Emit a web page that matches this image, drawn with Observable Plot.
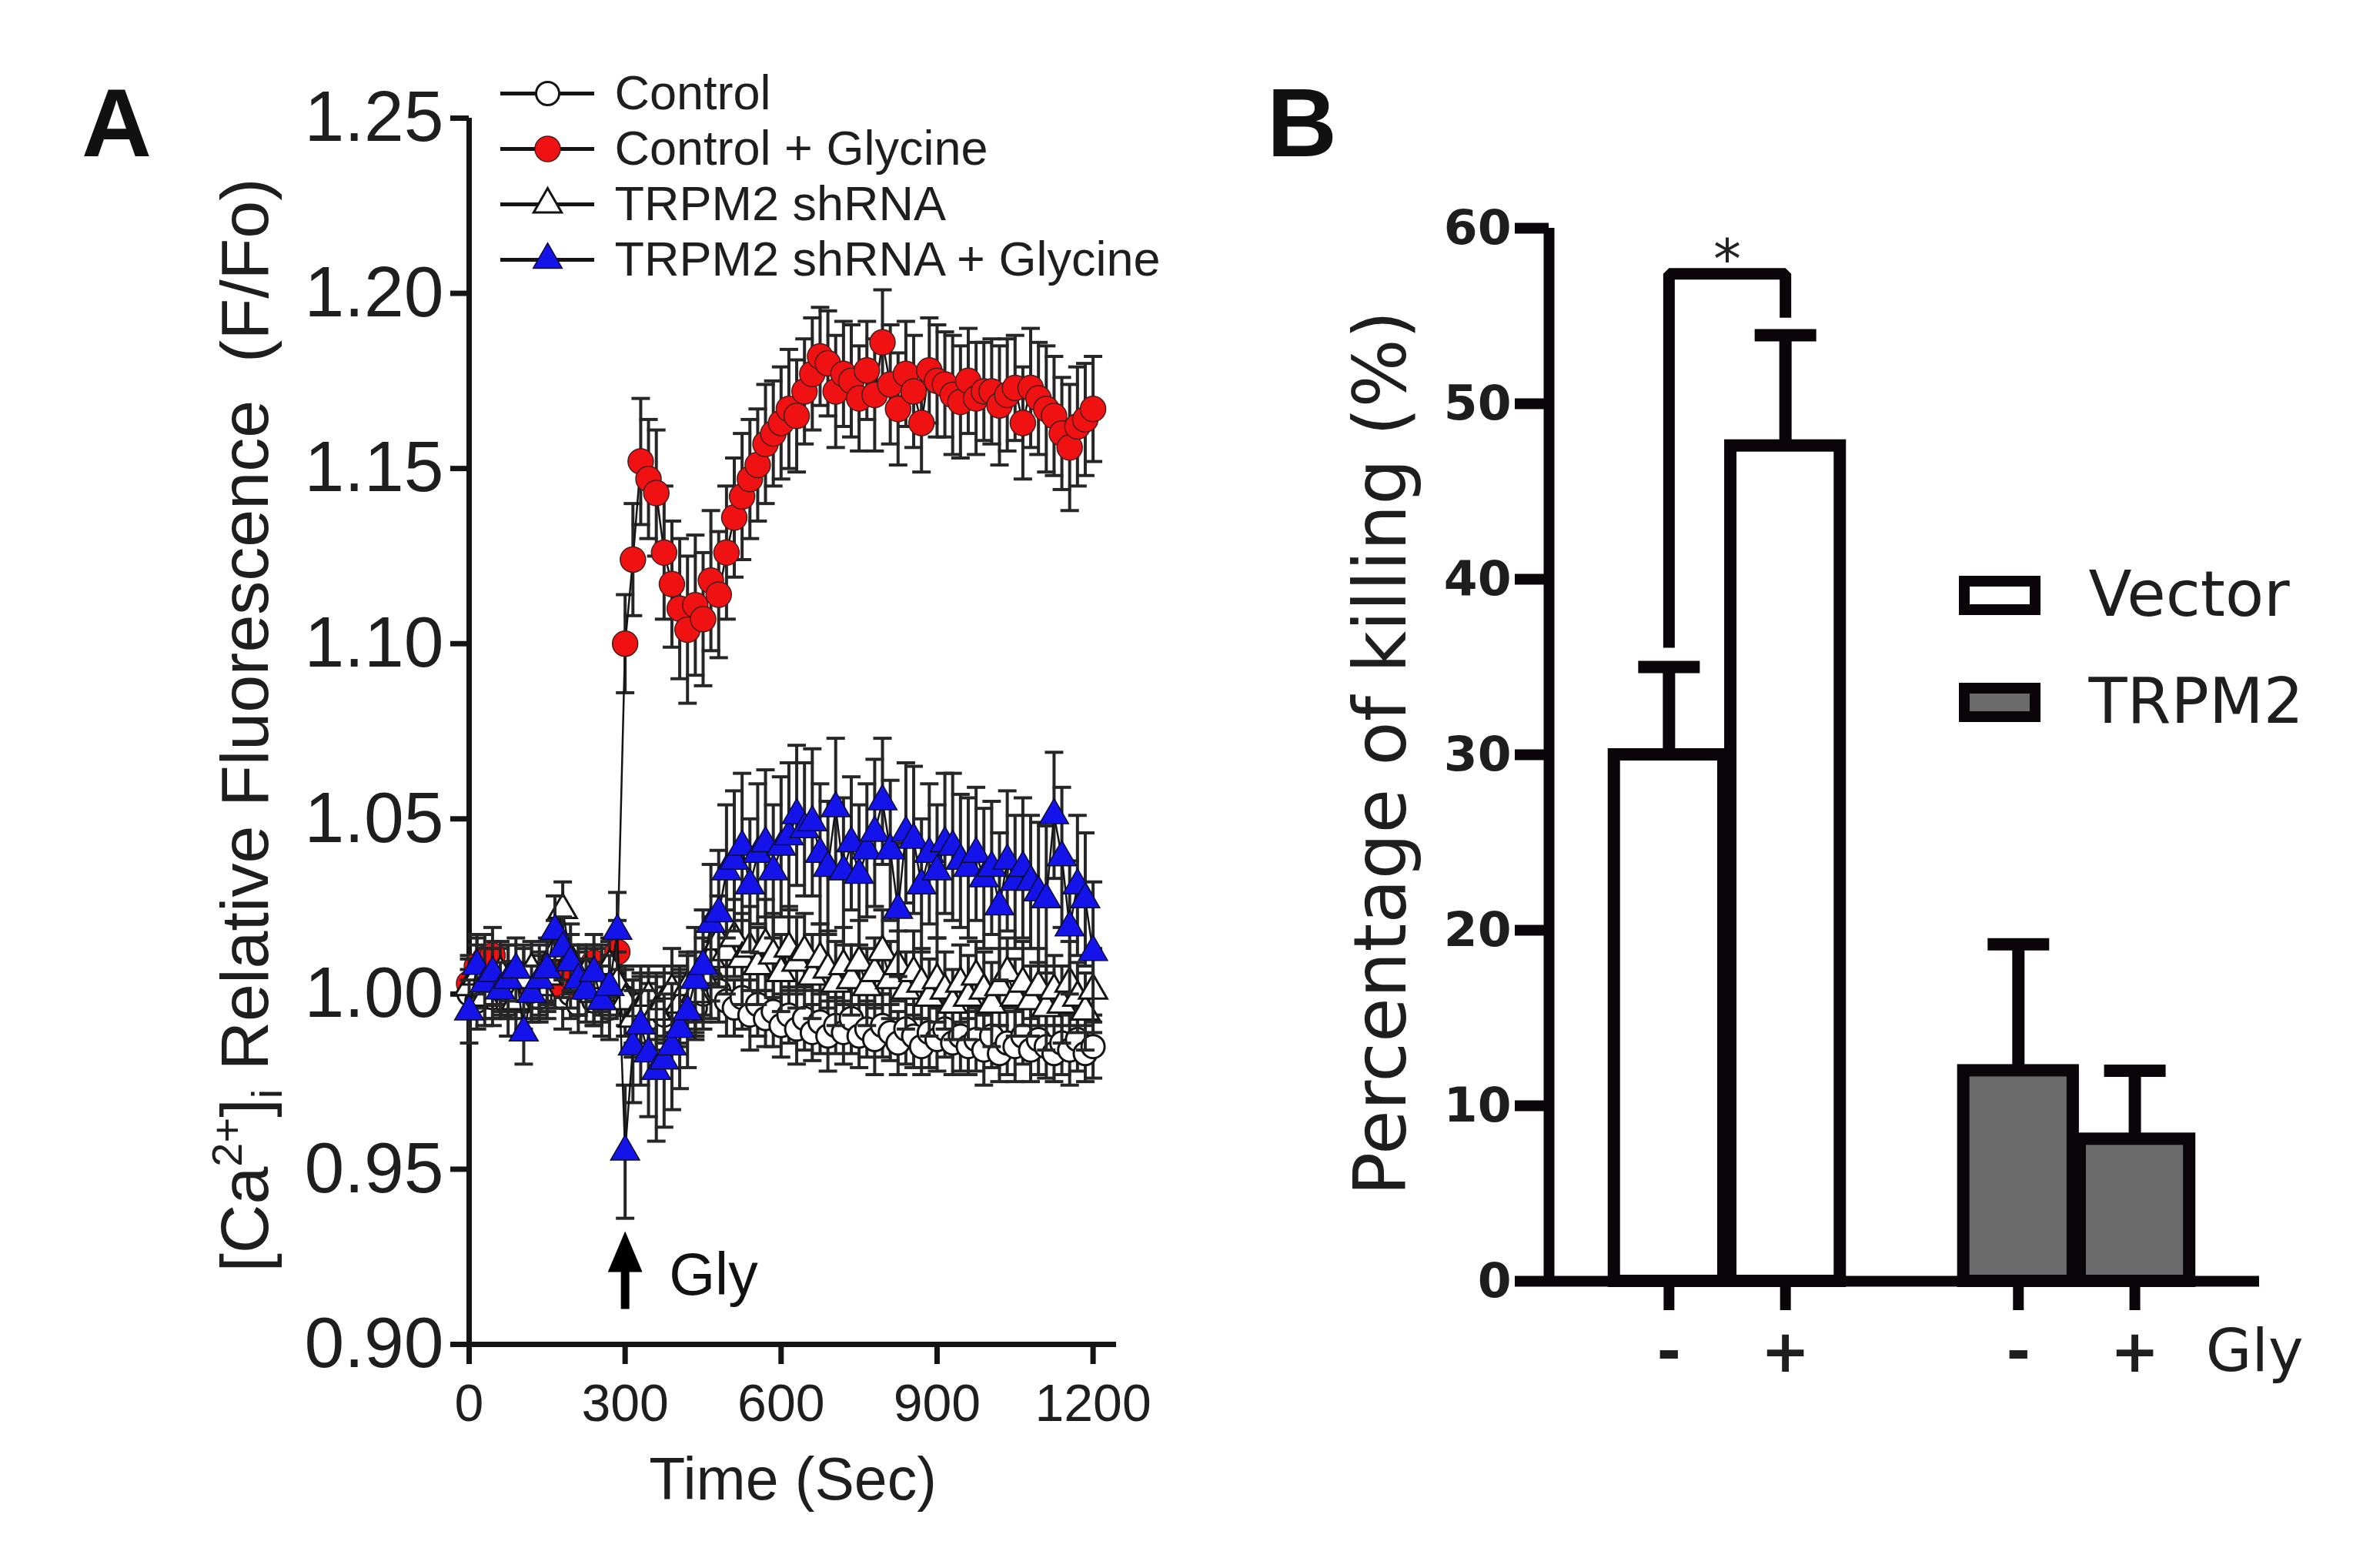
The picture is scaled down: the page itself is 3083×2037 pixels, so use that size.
<!DOCTYPE html>
<html><head><meta charset="utf-8">
<script src="https://cdn.jsdelivr.net/npm/d3@7"></script>
<script src="https://cdn.jsdelivr.net/npm/@observablehq/plot@0.6"></script>
<style>
html,body{margin:0;padding:0;background:#fff;}
#root{position:relative;width:3083px;height:2037px;overflow:hidden;background:#fff;}
.panel-letter{position:absolute;font-family:"Liberation Sans Narrow","Arial Narrow","Liberation Sans",Arial,sans-serif;font-weight:bold;font-size:126px;line-height:1;color:#111;}
</style></head>
<body><div id="root"></div>
<script>
// ---------------- Panel A data ----------------
const time = [
0,15,30,45,60,75,90,105,120,135,
150,165,180,195,210,225,240,255,270,285,
300,315,330,345,360,375,390,405,420,435,
450,465,480,495,510,525,540,555,570,585,
600,615,630,645,660,675,690,705,720,735,
750,765,780,795,810,825,840,855,870,885,
900,915,930,945,960,975,990,1005,1020,1035,
1050,1065,1080,1095,1110,1125,1140,1155,1170,1185,
1200];
const control = [
1.000,0.998,1.002,0.999,1.001,0.997,1.000,0.998,1.002,0.999,
1.001,1.003,0.999,1.000,0.997,1.001,0.998,1.000,0.996,1.001,
0.999,0.995,0.997,0.993,0.996,0.994,0.997,0.995,0.998,0.996,
1.000,1.004,1.001,0.998,0.996,0.999,0.994,0.997,0.993,0.995,
0.991,0.994,0.990,0.993,0.989,0.992,0.988,0.991,0.989,0.993,
0.988,0.990,0.987,0.991,0.989,0.986,0.990,0.988,0.985,0.989,
0.987,0.990,0.986,0.988,0.985,0.987,0.984,0.988,0.983,0.986,
0.985,0.988,0.984,0.987,0.985,0.983,0.986,0.984,0.987,0.983,
0.985];
const controlErr = [
0.007,0.008,0.006,0.008,0.007,0.009,0.007,0.008,0.006,0.007,
0.008,0.007,0.009,0.007,0.008,0.006,0.007,0.008,0.009,0.007,
0.008,0.009,0.008,0.010,0.009,0.008,0.009,0.010,0.008,0.009,
0.010,0.011,0.009,0.010,0.008,0.009,0.010,0.009,0.008,0.010,
0.009,0.008,0.010,0.009,0.008,0.009,0.010,0.008,0.009,0.010,
0.009,0.008,0.010,0.009,0.008,0.009,0.010,0.009,0.008,0.010,
0.009,0.008,0.009,0.010,0.008,0.009,0.010,0.009,0.008,0.009,
0.010,0.008,0.009,0.010,0.009,0.008,0.009,0.010,0.009,0.008,
0.009];
const controlGly = [
1.003,1.008,1.010,1.011,1.004,1.006,1.002,1.005,1.001,1.004,
1.006,1.003,1.007,1.005,1.002,1.006,1.009,1.004,1.007,1.012,
1.100,1.124,1.152,1.147,1.143,1.126,1.117,1.110,1.104,1.111,
1.107,1.118,1.114,1.126,1.136,1.142,1.147,1.151,1.157,1.160,
1.163,1.167,1.165,1.172,1.177,1.182,1.180,1.172,1.177,1.175,
1.170,1.178,1.171,1.186,1.174,1.167,1.177,1.172,1.163,1.178,
1.175,1.174,1.171,1.169,1.175,1.170,1.172,1.172,1.168,1.171,
1.173,1.163,1.173,1.170,1.167,1.165,1.160,1.156,1.162,1.164,
1.167];
const controlGlyErr = [
0.008,0.009,0.007,0.008,0.009,0.008,0.007,0.009,0.008,0.008,
0.009,0.007,0.008,0.009,0.008,0.007,0.008,0.009,0.008,0.009,
0.014,0.016,0.018,0.017,0.018,0.019,0.018,0.020,0.021,0.020,
0.019,0.020,0.018,0.019,0.017,0.018,0.017,0.016,0.017,0.015,
0.016,0.017,0.016,0.015,0.016,0.014,0.015,0.016,0.015,0.016,
0.015,0.014,0.016,0.015,0.017,0.016,0.015,0.016,0.014,0.015,
0.016,0.015,0.017,0.016,0.015,0.016,0.014,0.015,0.017,0.016,
0.015,0.016,0.017,0.016,0.018,0.017,0.016,0.018,0.017,0.016,
0.015];
const trpm2 = [
1.002,1.005,0.999,1.003,1.006,1.001,0.998,1.004,1.007,1.002,
1.005,1.012,1.024,1.010,1.003,1.006,1.000,1.004,1.008,1.003,
0.998,0.993,0.996,0.999,0.995,0.998,1.001,0.997,1.002,1.000,
1.005,1.010,1.015,1.012,1.016,1.010,1.013,1.008,1.014,1.011,
1.006,1.013,1.009,1.012,1.005,1.010,1.007,1.003,1.008,1.004,
1.009,1.002,1.006,1.012,1.004,1.008,1.001,1.006,1.003,0.999,
1.004,1.001,0.997,1.003,0.999,1.005,1.001,0.997,1.002,1.006,
0.999,1.003,0.998,1.002,0.996,1.001,0.997,1.003,0.999,0.995,
1.001];
const trpm2Err = [
0.008,0.009,0.008,0.010,0.009,0.008,0.010,0.009,0.008,0.009,
0.010,0.009,0.008,0.010,0.009,0.008,0.009,0.010,0.008,0.009,
0.010,0.011,0.010,0.009,0.011,0.010,0.012,0.011,0.010,0.012,
0.011,0.012,0.013,0.012,0.011,0.013,0.012,0.011,0.013,0.012,
0.011,0.012,0.013,0.011,0.012,0.010,0.011,0.012,0.011,0.010,
0.012,0.011,0.010,0.012,0.011,0.010,0.011,0.012,0.010,0.011,
0.012,0.011,0.010,0.011,0.012,0.010,0.011,0.012,0.011,0.010,
0.011,0.012,0.010,0.011,0.012,0.010,0.011,0.012,0.010,0.011,
0.012];
const trpm2Gly = [
0.995,1.008,1.003,1.006,1.001,1.004,1.007,0.989,1.000,1.004,
1.007,1.018,1.013,1.009,1.004,1.001,1.006,0.998,1.002,1.018,
0.955,0.985,0.991,0.983,0.978,0.981,0.985,0.990,0.995,1.004,
1.008,1.020,1.023,1.035,1.038,1.042,1.031,1.040,1.043,1.035,
1.042,1.045,1.051,1.047,1.049,1.040,1.036,1.053,1.035,1.043,
1.034,1.041,1.046,1.055,1.041,1.024,1.046,1.044,1.031,1.040,
1.035,1.043,1.042,1.038,1.036,1.040,1.033,1.036,1.025,1.038,
1.032,1.036,1.032,1.029,1.027,1.051,1.039,1.019,1.031,1.027,
1.012];
const trpm2GlyErr = [
0.009,0.008,0.010,0.009,0.008,0.010,0.009,0.009,0.008,0.010,
0.009,0.010,0.009,0.008,0.010,0.009,0.008,0.010,0.009,0.011,
0.019,0.016,0.017,0.018,0.020,0.019,0.018,0.017,0.016,0.015,
0.016,0.017,0.018,0.019,0.020,0.021,0.019,0.020,0.021,0.019,
0.020,0.021,0.020,0.019,0.021,0.020,0.019,0.020,0.021,0.019,
0.020,0.019,0.021,0.018,0.020,0.019,0.020,0.021,0.019,0.020,
0.019,0.020,0.021,0.019,0.020,0.019,0.020,0.019,0.021,0.020,
0.019,0.020,0.019,0.020,0.021,0.018,0.020,0.019,0.020,0.019,
0.020];
const seriesNamesA = ["Control", "Control + Glycine", "TRPM2 shRNA", "TRPM2 shRNA + Glycine"];
const xTicksA = [0, 300, 600, 900, 1200];
const yTicksA = [0.90, 0.95, 1.00, 1.05, 1.10, 1.15, 1.20, 1.25];
const yLabelAParts = [["[Ca", ""], ["2+", "sup"], ["]", ""], ["i", "sub"], [" Relative Fluorescence  (F/Fo)", ""]];
const xLabelA = "Time (Sec)";
const glyEvent = [{time: 300, label: "Gly", base: 0.9100, neck: 0.9225, tip: 0.9323, labelY: 0.9196}];

// ---------------- Panel B data ----------------
const killGroups = ["Vector", "TRPM2"];
const killGly = ["-", "+"];
const killMean = [30.0, 47.6, 12.0, 8.1];
const killSem = [5.0, 6.3, 7.2, 3.9];
const yTicksB = [0, 10, 20, 30, 40, 50, 60];
const yLabelB = "Percentage of killing (%)";
const xLabelB = "Gly";
const sigBracket = [{from: 0, to: 1, leftBase: 36.1, top: 57.4, rightBase: 54.9, label: "*"}];

// ---------------- helpers ----------------
const FA = "Liberation Sans, Arial, Helvetica, sans-serif";
const FB = "DejaVu Sans, Verdana, sans-serif";
const INK = "#141414";
const capSymbol = {draw(ctx, size) { const r = Math.sqrt(size / Math.PI); ctx.moveTo(-r, 0); ctx.lineTo(r, 0); }};
const headSymbol = {draw(ctx, size) { const r = Math.sqrt(size / Math.PI); ctx.moveTo(0, 0); ctx.lineTo(-1.35 * r, 3.2 * r); ctx.lineTo(1.35 * r, 3.2 * r); ctx.closePath(); }};
const svgStyle = (l, t) => `position:absolute;left:${l}px;top:${t}px;background:transparent;overflow:visible;max-width:none;font-family:${FA};`;

const rowsOf = (vals, errs) => time.map((t, i) => ({time: t, value: vals[i], lo: vals[i] - errs[i], hi: vals[i] + errs[i]}));
const seriesA = [
  {name: seriesNamesA[0], rows: rowsOf(control, controlErr), symbol: "circle", r: 15, fill: "#ffffff", stroke: INK, sw: 3},
  {name: seriesNamesA[1], rows: rowsOf(controlGly, controlGlyErr), symbol: "circle", r: 16.5, fill: "#f01212", stroke: "#4a1d1d", sw: 1.5},
  {name: seriesNamesA[2], rows: rowsOf(trpm2, trpm2Err), symbol: "triangle", r: 13.5, fill: "#ffffff", stroke: INK, sw: 3},
  {name: seriesNamesA[3], rows: rowsOf(trpm2Gly, trpm2GlyErr), symbol: "triangle", r: 14, fill: "#1414ea", stroke: "#0c0c30", sw: 1.5}
];

const root = document.getElementById("root");

// ---------------- Panel A ----------------
const seriesMarks = seriesA.flatMap(s => [
  Plot.ruleX(s.rows, {x: "time", y1: "lo", y2: "hi", stroke: "#262626", strokeWidth: 4}),
  Plot.dot(s.rows, {x: "time", y: "hi", symbol: capSymbol, r: 12, fill: "none", stroke: "#262626", strokeWidth: 4}),
  Plot.dot(s.rows, {x: "time", y: "lo", symbol: capSymbol, r: 12, fill: "none", stroke: "#262626", strokeWidth: 4}),
  Plot.line(s.rows, {x: "time", y: "value", stroke: INK, strokeWidth: 2.5}),
  Plot.dot(s.rows, {x: "time", y: "value", symbol: s.symbol, r: s.r, fill: s.fill, stroke: s.stroke, strokeWidth: s.sw})
]);

const plotA = Plot.plot({
  width: 1560, height: 2037,
  marginLeft: 609, marginRight: 110, marginTop: 153, marginBottom: 291,
  x: {domain: [0, 1245], label: null},
  y: {domain: [0.9, 1.25], label: null},
  style: svgStyle(0, 0),
  marks: [
    Plot.axisY({ticks: yTicksA, tickSize: 24, tickPadding: 9, tickFormat: ".2f", fontSize: 93, fontFamily: FA, fill: "#1e1e1e", stroke: INK, strokeWidth: 7, label: null}),
    Plot.axisX({ticks: xTicksA, tickSize: 26, tickPadding: 25, tickFormat: "d", fontSize: 68, fontFamily: FA, fill: "#1e1e1e", stroke: INK, strokeWidth: 7, label: null}),
    Plot.ruleX([xTicksA[0]], {stroke: INK, strokeWidth: 7}),
    Plot.ruleY([yTicksA[0]], {stroke: INK, strokeWidth: 7}),
    ...seriesMarks,
    Plot.ruleX(glyEvent, {x: "time", y1: "base", y2: "neck", stroke: "#000", strokeWidth: 11}),
    Plot.dot(glyEvent, {x: "time", y: "tip", symbol: headSymbol, r: 16.6, fill: "#000", stroke: "none"}),
    Plot.text(glyEvent, {x: "time", y: "labelY", text: "label", dx: 57, textAnchor: "start", lineAnchor: "middle", fontSize: 77, fontFamily: FA, fill: "#111"}),
    Plot.text([yLabelAParts.map(p => p[0]).join("")], {text: d => d, frameAnchor: "left", textAnchor: "middle", lineAnchor: "middle", rotate: -90, dx: -290, dy: -8, fontSize: 88, fontFamily: FA, fill: "#1e1e1e"}),
    Plot.text([xLabelA], {text: d => d, frameAnchor: "bottom", textAnchor: "middle", lineAnchor: "middle", dy: 177, fontSize: 77, fontFamily: FA, fill: "#1e1e1e"})
  ]
});
root.appendChild(plotA);

// superscript / subscript in the y label
d3.select(plotA).selectAll("text").filter(function() { return this.textContent.includes("Relative"); }).each(function() {
  const t = d3.select(this);
  t.text(null);
  let shift = 0;
  yLabelAParts.forEach(([s, kind]) => {
    const target = kind === "sup" ? -34 : kind === "sub" ? 18 : 0;
    const ts = t.append("tspan").attr("dy", target - shift).text(s);
    if (kind) ts.attr("font-size", 56);
    shift = target;
  });
});

// ---------------- Legend A ----------------
const legendA = Plot.plot({
  width: 1000, height: 310,
  marginLeft: 50, marginRight: 828, marginTop: 50, marginBottom: 43,
  x: {domain: [0, 1], axis: null},
  y: {type: "point", domain: seriesNamesA, padding: 0, axis: null},
  style: svgStyle(600, 70),
  marks: [
    Plot.ruleY(seriesNamesA, {y: d => d, x1: 0, x2: 1, stroke: INK, strokeWidth: 5}),
    ...seriesA.map(s => Plot.dot([s.name], {y: d => d, x: 0.5, symbol: s.symbol, r: s.r, fill: s.fill, stroke: s.stroke, strokeWidth: s.sw})),
    Plot.text(seriesNamesA, {y: d => d, x: 1, text: d => d, dx: 26, textAnchor: "start", lineAnchor: "middle", fontSize: 63, fontFamily: FA, fill: "#1e1e1e"})
  ]
});
root.appendChild(legendA);

// ---------------- Panel B ----------------
const barsB = killGroups.flatMap((g, gi) => killGly.map((s, si) => {
  const i = gi * killGly.length + si;
  return {group: g, gly: s, pos: gi * (killGly.length + 1) + si, mean: killMean[i], top: killMean[i] + killSem[i]};
}));
const posOf = i => barsB[i].pos;
const bracketPts = sigBracket.flatMap(b => [
  {x: posOf(b.from), y: b.leftBase}, {x: posOf(b.from), y: b.top},
  {x: posOf(b.to), y: b.top}, {x: posOf(b.to), y: b.rightBase}
]);
const xDomainB = [-1.03, 5.07];
const halfBar = 0.47;
const barFill = {Vector: "#ffffff", TRPM2: "#6b6b6b"};
const BARINK = "#0a0508";

const plotB = Plot.plot({
  width: 1483, height: 2037,
  marginLeft: 412, marginRight: 148, marginTop: 296, marginBottom: 373,
  x: {domain: xDomainB, label: null},
  y: {domain: [0, 60], label: null},
  style: svgStyle(1600, 0),
  marks: [
    ...killGroups.map(g => Plot.rect(barsB.filter(d => d.group === g), {x1: d => d.pos - halfBar, x2: d => d.pos + halfBar, y1: 0, y2: "mean", fill: barFill[g], stroke: BARINK, strokeWidth: 16})),
    Plot.ruleX(barsB, {x: "pos", y1: "mean", y2: "top", stroke: BARINK, strokeWidth: 16}),
    Plot.dot(barsB, {x: "pos", y: "top", symbol: capSymbol, r: 40, fill: "none", stroke: BARINK, strokeWidth: 16}),
    Plot.line(bracketPts, {x: "x", y: "y", stroke: BARINK, strokeWidth: 15, strokeLinejoin: "miter", strokeLinecap: "butt"}),
    Plot.text(sigBracket, {x: d => (posOf(d.from) + posOf(d.to)) / 2, y: "top", text: "label", lineAnchor: "middle", dy: -18, fontSize: 72, fontFamily: FB, fill: "#222"}),
    Plot.ruleX([xDomainB[0]], {stroke: BARINK, strokeWidth: 14}),
    Plot.ruleY([yTicksB[0]], {stroke: BARINK, strokeWidth: 14}),
    Plot.axisY({ticks: yTicksB, tickSize: 44, tickPadding: 5, fontSize: 63, fontFamily: FB, fontWeight: "bold", fill: "#1e1e1e", stroke: BARINK, strokeWidth: 14, label: null}),
    Plot.axisX({ticks: barsB.map(d => d.pos), tickSize: 38, tickFormat: () => "", stroke: BARINK, strokeWidth: 14, label: null}),
    Plot.text(barsB, {x: "pos", text: "gly", frameAnchor: "bottom", lineAnchor: "middle", dy: 93, fontSize: 76, fontWeight: "bold", fontFamily: FB, fill: "#1e1e1e"}),
    Plot.text([xLabelB], {text: d => d, frameAnchor: "bottom-right", textAnchor: "end", lineAnchor: "middle", dx: 57, dy: 92, fontSize: 77, fontFamily: FB, fill: "#1e1e1e"}),
    Plot.text([yLabelB], {text: d => d, frameAnchor: "left", textAnchor: "middle", lineAnchor: "middle", rotate: -90, dx: -217, dy: -2, fontSize: 94, fontFamily: FB, fill: "#1e1e1e"})
  ]
});
root.appendChild(plotB);

// ---------------- Legend B ----------------
const legendB = Plot.plot({
  width: 560, height: 280,
  marginLeft: 32, marginRight: 436, marginTop: 54.5, marginBottom: 49.5,
  x: {domain: [0, 1], axis: null},
  y: {type: "band", domain: killGroups, paddingInner: 0.734, paddingOuter: 0, axis: null},
  style: svgStyle(2520, 700),
  marks: [
    ...killGroups.map(g => Plot.barX([g], {y: d => d, x1: 0, x2: 1, fill: barFill[g], stroke: BARINK, strokeWidth: 14})),
    Plot.text(killGroups, {y: d => d, x: 1, text: d => d, dx: 69, textAnchor: "start", lineAnchor: "middle", fontSize: 82, fontFamily: FB, fill: "#1e1e1e"})
  ]
});
root.appendChild(legendB);

// ---------------- Panel letters ----------------
[["A", 106, 97], ["B", 1646, 97]].forEach(([t, l, tp]) => {
  const d = document.createElement("div");
  d.className = "panel-letter";
  d.style.left = l + "px"; d.style.top = tp + "px";
  d.textContent = t;
  root.appendChild(d);
});
</script></body></html>
